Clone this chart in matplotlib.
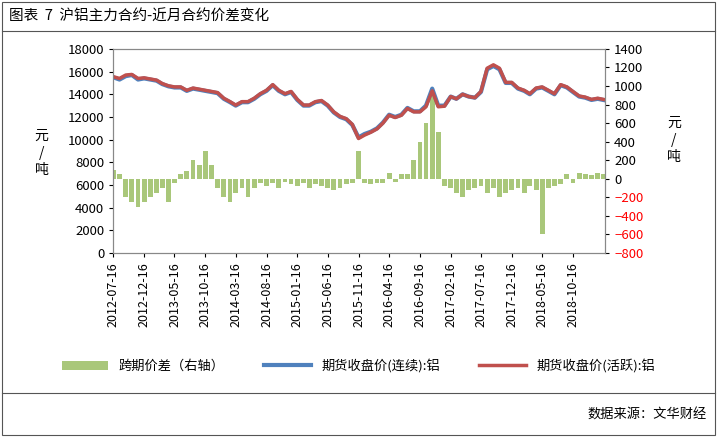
import matplotlib
matplotlib.use("Agg")
import matplotlib.pyplot as plt
import pandas as pd
from matplotlib.patches import Rectangle
from matplotlib.lines import Line2D

plt.rcParams["font.family"] = ["Noto Sans CJK SC"]

months = pd.date_range("2012-07-01", "2019-03-01", freq="MS") + pd.Timedelta(days=15)
price_cont = [15500,15300,15600,15700,15300,15400,15300,15200,14900,14700,14600,14600,
              14300,14500,14400,14300,14200,14100,13600,13300,13000,13300,13300,13600,
              14000,14300,14800,14300,14000,14200,13500,13000,13000,13300,13400,13000,
              12400,12000,11800,11300,10200,10500,10700,11000,11500,12200,12000,12200,
              12800,12500,12500,13000,14500,13000,13000,13800,13600,14000,13800,13700,
              14200,16200,16500,16200,15000,15000,14500,14300,14000,14500,14600,14300,
              14000,14800,14600,14200,13800,13700,13500,13600,13500]
price_active = [15550,15400,15700,15750,15400,15450,15350,15250,14950,14750,14650,14650,
                14350,14550,14450,14350,14250,14150,13650,13350,13050,13350,13350,13650,
                14050,14350,14850,14350,14050,14250,13550,13050,13050,13350,13450,13050,
                12450,12050,11850,11350,10100,10400,10650,10950,11450,12150,11950,12150,
                12750,12450,12450,12900,14300,12900,12950,13800,13600,14000,13800,13700,
                14250,16300,16600,16300,15050,15050,14550,14350,14050,14550,14650,14350,
                14050,14850,14650,14250,13850,13750,13550,13650,13550]
spread = [100,50,-200,-250,-300,-250,-200,-150,-100,-250,-50,50,
          80,200,150,300,150,-100,-200,-250,-150,-100,-200,-100,
          -50,-80,-50,-100,-30,-60,-80,-50,-100,-60,-80,-100,
          -120,-100,-60,-50,300,-50,-60,-40,-50,60,-30,50,
          50,200,400,600,900,500,-80,-100,-150,-200,-120,-100,
          -80,-150,-100,-200,-150,-120,-100,-150,-80,-120,-600,-100,
          -80,-60,50,-40,60,50,40,60,50]

fig = plt.figure(figsize=(7.17, 4.37), dpi=100)
fig.patches.append(Rectangle((0.003, 0.005), 0.994, 0.99, transform=fig.transFigure,
                             fill=False, lw=0.8, ec="#555555"))
fig.add_artist(Line2D([0.003, 0.997], [0.93, 0.93], color="#555555", lw=0.8))
fig.add_artist(Line2D([0.003, 0.997], [0.10, 0.10], color="#555555", lw=0.8))
fig.text(0.012, 0.962, "图表  7  沪铝主力合约-近月合约价差变化", fontsize=10.5, va="center")
fig.text(0.985, 0.05, "数据来源：文华财经", fontsize=9.5, ha="right", va="center")

ax = fig.add_axes([0.158, 0.421, 0.686, 0.467])
ax2 = ax.twinx()
ax2.bar(months, spread, width=24, color="#A9C77A", label="跨期价差（右轴）")
ax2.set_ylim(-800, 1400)
ax2.set_yticks(range(-800, 1401, 200))
for t, v in zip(ax2.get_yticklabels(), range(-800, 1401, 200)):
    if v < 0:
        t.set_color("red")
ax.set_zorder(ax2.get_zorder() + 1)
ax.patch.set_visible(False)
ax.plot(months, price_cont, color="#4F81BD", lw=3, label="期货收盘价(连续):铝")
ax.plot(months, price_active, color="#C0504D", lw=2.5, label="期货收盘价(活跃):铝")
ax.set_ylim(0, 18000)
ax.set_yticks(range(0, 18001, 2000))
ax.set_xlim(pd.Timestamp("2012-07-16"), pd.Timestamp("2019-03-25"))
ticks = pd.date_range("2012-07-01", "2019-01-01", freq="5MS") + pd.Timedelta(days=15)
ax.set_xticks(ticks)
ax.set_xticklabels([t.strftime("%Y-%m-%d") for t in ticks], rotation=90, fontsize=9)
for a in (ax, ax2):
    a.tick_params(labelsize=9.5, length=3)
    for s in a.spines.values():
        s.set_color("#888888")
ax.tick_params(axis="x", labelsize=9)
fig.text(0.058, 0.65, "元\n/\n吨", fontsize=10, ha="center", va="center", linespacing=1.3)
fig.text(0.94, 0.68, "元\n/\n吨", fontsize=10, ha="center", va="center", linespacing=1.3)

h1, l1 = ax2.get_legend_handles_labels()
h2, l2 = ax.get_legend_handles_labels()
fig.legend(h1 + h2, l1 + l2, loc="center", bbox_to_anchor=(0.5, 0.163), ncol=3,
           frameon=False, fontsize=9.5, columnspacing=3, handlelength=3.5)
fig.savefig("out.png", dpi=100)
